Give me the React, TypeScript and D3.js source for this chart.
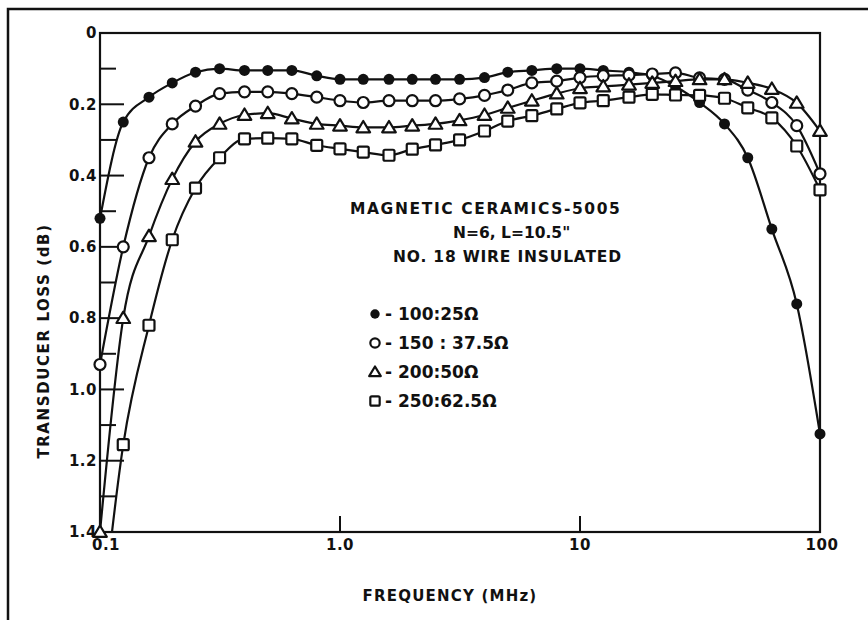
import * as d3 from "d3";

// frequency points (MHz), third-octave steps
const FREQ = [
  0.1, 0.125, 0.16, 0.2, 0.25, 0.315, 0.4, 0.5, 0.63, 0.8,
  1.0, 1.25, 1.6, 2, 2.5, 3.15, 4, 5, 6.3, 8,
  10, 12.5, 16, 20, 25, 31.5, 40, 50, 63, 80, 100,
];

// transducer loss (dB) per impedance ratio
const LOSS_100_25 = [
  0.52, 0.25, 0.18, 0.14, 0.11, 0.1, 0.105, 0.105, 0.105, 0.12,
  0.13, 0.13, 0.13, 0.13, 0.13, 0.13, 0.125, 0.11, 0.105, 0.1,
  0.1, 0.105, 0.11, 0.12, 0.15, 0.195, 0.255, 0.35, 0.55, 0.76, 1.125,
];
const LOSS_150_375 = [
  0.93, 0.6, 0.35, 0.255, 0.205, 0.17, 0.165, 0.165, 0.17, 0.18,
  0.19, 0.195, 0.19, 0.19, 0.19, 0.185, 0.175, 0.16, 0.14, 0.135,
  0.125, 0.12, 0.118, 0.115, 0.112, 0.126, 0.13, 0.16, 0.195, 0.26, 0.395,
];
const LOSS_200_50 = [
  1.4, 0.8, 0.57, 0.41, 0.305, 0.255, 0.23, 0.225, 0.24, 0.255,
  0.26, 0.265, 0.265, 0.26, 0.255, 0.245, 0.23, 0.21, 0.19, 0.17,
  0.155, 0.15, 0.145, 0.14, 0.135, 0.13, 0.13, 0.14, 0.157, 0.196, 0.275,
];
// first value runs off the bottom of the scale
const LOSS_250_625 = [
  1.7, 1.155, 0.82, 0.58, 0.435, 0.35, 0.297, 0.295, 0.297, 0.315,
  0.325, 0.334, 0.343, 0.326, 0.314, 0.3, 0.275, 0.247, 0.232, 0.213,
  0.196, 0.19, 0.18, 0.172, 0.174, 0.175, 0.183, 0.21, 0.238, 0.317, 0.44,
];

const SERIES = [
  { label: "- 100:25Ω", marker: "dot", values: LOSS_100_25 },
  { label: "- 150 : 37.5Ω", marker: "circle", values: LOSS_150_375 },
  { label: "- 200:50Ω", marker: "triangle", values: LOSS_200_50 },
  { label: "- 250:62.5Ω", marker: "square", values: LOSS_250_625 },
];

const Y_TICKS = [0, 0.1, 0.2, 0.3, 0.4, 0.5, 0.6, 0.7, 0.8, 0.9, 1.0, 1.1, 1.2, 1.3, 1.4];
const Y_LABELS = ["0", "0.2", "0.4", "0.6", "0.8", "1.0", "1.2", "1.4"];
const X_TICKS = [0.1, 1, 10, 100];
const X_LABELS = ["0.1", "1.0", "10", "100"];

const NOTE_LINES = ["MAGNETIC CERAMICS-5005", "N=6, L=10.5\"", "NO. 18 WIRE INSULATED"];

const FONT = "'DejaVu Sans', Verdana, sans-serif";
const INK = "#111";

const Marker = ({ kind, x, y, s = 1 }: { kind: string; x: number; y: number; s?: number }) => {
  if (kind === "dot") return <circle cx={x} cy={y} r={5.5 * s} fill={INK} />;
  if (kind === "circle")
    return <circle cx={x} cy={y} r={5.5 * s} fill="#fff" stroke={INK} strokeWidth={2.2} />;
  if (kind === "triangle") {
    const h = 6.5 * s;
    return (
      <path
        d={`M${x},${y - h} L${x + h * 1.05},${y + h * 0.75} L${x - h * 1.05},${y + h * 0.75} Z`}
        fill="#fff"
        stroke={INK}
        strokeWidth={2.2}
        strokeLinejoin="round"
      />
    );
  }
  const a = 5.5 * s;
  return <rect x={x - a} y={y - a} width={a * 2} height={a * 2} rx={1.5} fill="#fff" stroke={INK} strokeWidth={2.2} />;
};

export default function App() {
  const width = 868;
  const height = 620;
  const plot = { left: 100, top: 33, right: 820, bottom: 532 };

  const x = d3.scaleLog().domain([0.1, 100]).range([plot.left, plot.right]);
  const y = d3.scaleLinear().domain([0, 1.4]).range([plot.top, plot.bottom]);

  const line = d3
    .line<[number, number]>()
    .x((d) => x(d[0]))
    .y((d) => y(d[1]))
    .curve(d3.curveMonotoneX);

  return (
    <svg
      width={width}
      height={height}
      style={{ position: "absolute", left: 0, top: 0, background: "#fff" }}
      fontFamily={FONT}
      fontWeight="bold"
    >
      <defs>
        <clipPath id="plot-clip">
          <rect x={plot.left} y={plot.top} width={plot.right - plot.left} height={plot.bottom - plot.top} />
        </clipPath>
      </defs>

      {/* outer page frame */}
      <path d={`M8,620 L8,9 L868,9`} fill="none" stroke={INK} strokeWidth={2.5} />

      {/* plot frame */}
      <rect
        x={plot.left}
        y={plot.top}
        width={plot.right - plot.left}
        height={plot.bottom - plot.top}
        fill="none"
        stroke={INK}
        strokeWidth={2.2}
      />

      {/* y ticks */}
      {Y_TICKS.slice(1, -1).map((t, i) => {
        const major = (i + 1) % 2 === 0;
        return (
          <line key={`yt-${t}`} x1={plot.left} x2={plot.left + (major ? 24 : 16)} y1={y(t)} y2={y(t)} stroke={INK} strokeWidth={2} />
        );
      })}
      {Y_LABELS.map((l, i) => (
        <text key={`yl-${l}`} x={plot.left - 3} y={y(i * 0.2)} dy="0.35em" textAnchor="end" fontSize={15} letterSpacing={0.5} fill={INK}>
          {l}
        </text>
      ))}

      {/* x ticks */}
      {X_TICKS.slice(1, -1).map((t) => (
        <line key={`xt-${t}`} x1={x(t)} x2={x(t)} y1={plot.bottom} y2={plot.bottom - 16} stroke={INK} strokeWidth={2} />
      ))}
      {X_LABELS.map((l, i) => (
        <text key={`xl-${l}`} x={x(X_TICKS[i]) + (i === 0 ? 6 : i === 3 ? 2 : 0)} y={plot.bottom + 18} textAnchor="middle" fontSize={15} letterSpacing={0.5} fill={INK}>
          {l}
        </text>
      ))}

      {/* axis titles */}
      <text
        transform={`translate(49, 341) rotate(-90)`}
        textAnchor="middle"
        fontSize={15}
        letterSpacing={1.6}
        fill={INK}
      >
        TRANSDUCER LOSS (dB)
      </text>
      <text x={450} y={601} textAnchor="middle" fontSize={15} letterSpacing={1.2} fill={INK}>
        FREQUENCY (MHz)
      </text>

      {/* curves */}
      <g clipPath="url(#plot-clip)">
        {SERIES.map((s) => (
          <path
            key={`line-${s.marker}`}
            d={line(FREQ.map((f, i) => [f, s.values[i]] as [number, number])) ?? ""}
            fill="none"
            stroke={INK}
            strokeWidth={2.2}
          />
        ))}
      </g>
      {SERIES.map((s) =>
        FREQ.map((f, i) =>
          s.values[i] <= 1.4 ? <Marker key={`m-${s.marker}-${f}`} kind={s.marker} x={x(f)} y={y(s.values[i])} /> : null
        )
      )}

      {/* annotation */}
      <text x={350} y={214} fontSize={15.5} letterSpacing={1.6} fill={INK}>
        {NOTE_LINES[0]}
      </text>
      <text x={453} y={238} fontSize={15.5} letterSpacing={0} fill={INK}>
        {NOTE_LINES[1]}
      </text>
      <text x={393} y={262} fontSize={15.5} letterSpacing={0.8} fill={INK}>
        {NOTE_LINES[2]}
      </text>

      {/* legend */}
      {SERIES.map((s, i) => (
        <g key={`leg-${s.marker}`}>
          <Marker kind={s.marker} x={375} y={314 + i * 29} s={0.85} />
          <text x={385} y={320 + i * 29} fontSize={17} fill={INK}>
            {s.label}
          </text>
        </g>
      ))}
    </svg>
  );
}
